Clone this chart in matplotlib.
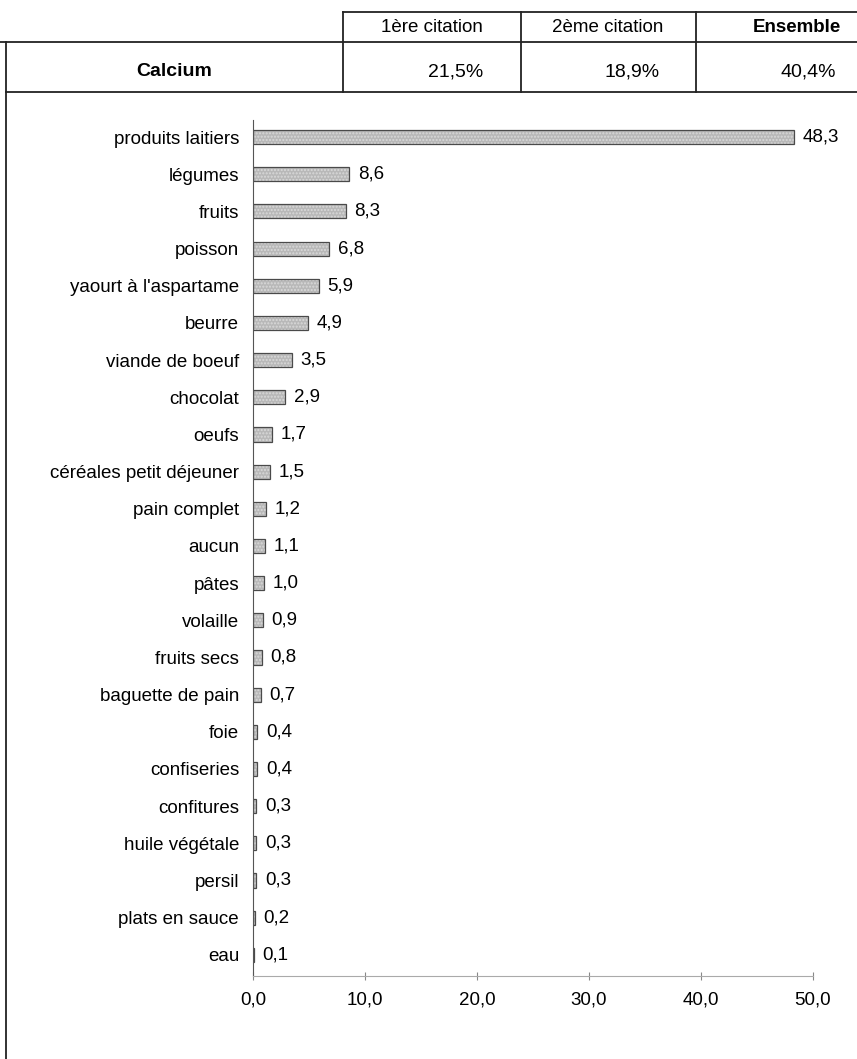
import numpy as np
import matplotlib.pyplot as plt
from matplotlib.lines import Line2D

plt.rcParams['font.family'] = ['Liberation Sans', 'DejaVu Sans']

# aliments cites pour le calcium (%)
aliments = ["produits laitiers", "légumes", "fruits", "poisson", "yaourt à l'aspartame",
            "beurre", "viande de boeuf", "chocolat", "oeufs", "céréales petit déjeuner",
            "pain complet", "aucun", "pâtes", "volaille", "fruits secs", "baguette de pain",
            "foie", "confiseries", "confitures", "huile végétale", "persil",
            "plats en sauce", "eau"]
valeurs = [48.3, 8.6, 8.3, 6.8, 5.9, 4.9, 3.5, 2.9, 1.7, 1.5, 1.2, 1.1, 1.0, 0.9,
           0.8, 0.7, 0.4, 0.4, 0.3, 0.3, 0.3, 0.2, 0.1]

colonnes = ["1ère citation", "2ème citation", "Ensemble"]
citations = ["21,5%", "18,9%", "40,4%"]

W, H = 857, 1059
fig = plt.figure(figsize=(W / 100, H / 100), dpi=100)

def fx(px):
    return px / W

def fy(py):
    return 1 - py / H

# tableau en haut
lw = 1.3
def trait(x0, y0, x1, y1):
    fig.add_artist(Line2D([fx(x0), fx(x1)], [fy(y0), fy(y1)], color='#222222', lw=lw))

trait(343, 12, 857, 12)
trait(0, 42, 857, 42)
trait(6, 92, 857, 92)
trait(6, 42, 6, 1059)
for xc in [343, 521, 696]:
    trait(xc, 12, xc, 92)

centres = [432, 608, 797]
droites = [483, 660, 836]
for i, txt in enumerate(colonnes):
    fig.text(fx(centres[i]), fy(27), txt, ha='center', va='center', fontsize=13.5,
             fontweight='bold' if i == 2 else 'normal')
fig.text(fx(174), fy(72), "Calcium", ha='center', va='center', fontsize=14, fontweight='bold')
for i, txt in enumerate(citations):
    fig.text(fx(droites[i]), fy(72), txt, ha='right', va='center', fontsize=14)

# graphique en barres
ax = fig.add_axes([fx(253), fy(976), fx(813) - fx(253), fy(120) - fy(976)])
y = np.arange(len(aliments))
bars = ax.barh(y, valeurs, height=0.38, color='#b8b8b8', edgecolor='#4a4a4a',
               linewidth=0.9, hatch='.....')
for b in bars:
    b._hatch_color = (0.85, 0.85, 0.85, 1)
ax.set_ylim(len(aliments) - 0.43, -0.46)
ax.set_xlim(0, 50)
ax.set_yticks(y)
ax.set_yticklabels(aliments, fontsize=13.5)
ax.set_xticks(np.arange(0, 51, 10))
ax.set_xticklabels([f"{v:.1f}".replace('.', ',') for v in np.arange(0, 51, 10)], fontsize=13.5)
ax.tick_params(axis='y', length=0, pad=10)
ax.tick_params(axis='x', length=6, direction='inout', color='#888888', pad=8)
for v, yy in zip(valeurs, y):
    ax.text(v + 0.75, yy, f"{v:.1f}".replace('.', ','), va='center', ha='left', fontsize=13.5)
ax.spines['top'].set_visible(False)
ax.spines['right'].set_visible(False)
ax.spines['left'].set_color('#555555')
ax.spines['bottom'].set_color('#aaaaaa')

fig.savefig('out.png', dpi=100)
